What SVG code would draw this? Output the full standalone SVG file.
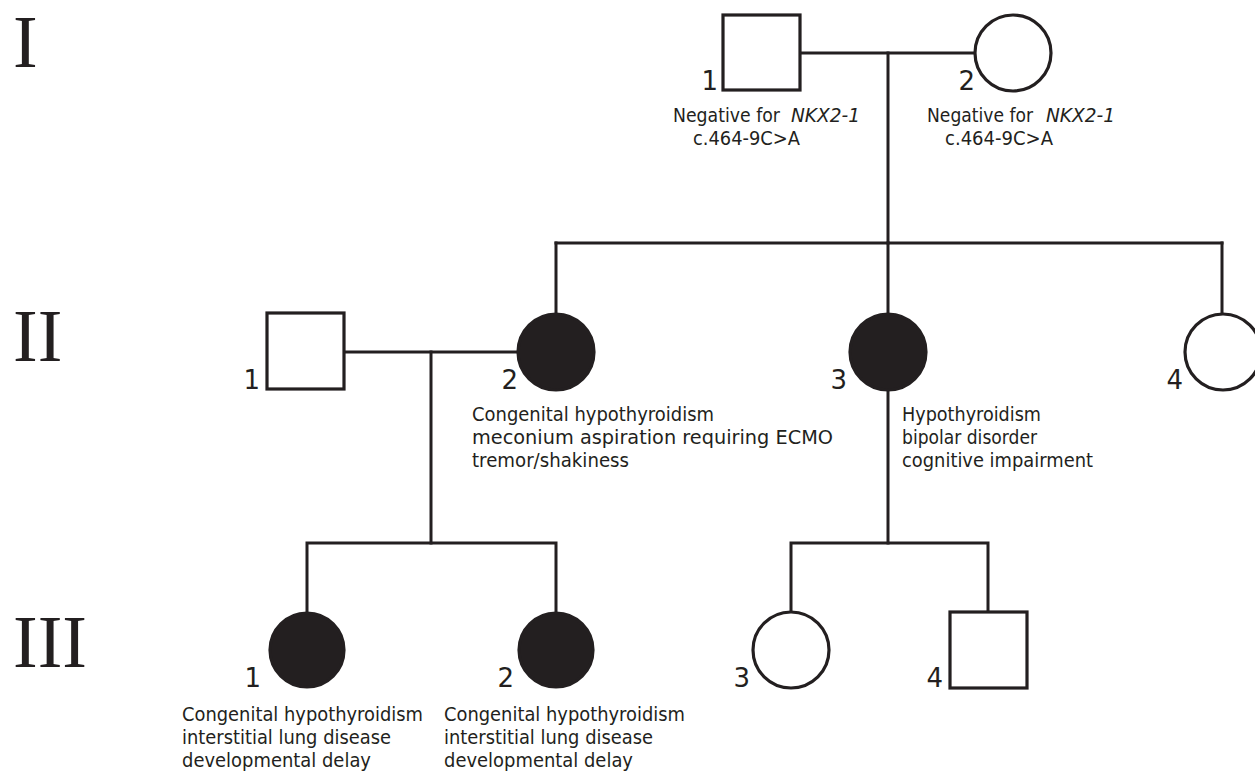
<svg xmlns="http://www.w3.org/2000/svg" width="1255" height="774" viewBox="0 0 1255 774">
<style>
.ln{stroke:#231f20;stroke-width:3;fill:none;stroke-linecap:square}
.sh{stroke:#231f20;stroke-width:3.2;fill:#fff}
.af{stroke:#231f20;stroke-width:3.2;fill:#231f20}
.t{font-family:"DejaVu Sans",Verdana,sans-serif;font-size:20px;fill:#231f20}
.i{font-style:italic}
.n{font-family:"DejaVu Sans",Verdana,sans-serif;font-size:26px;fill:#231f20;text-anchor:end}
.g{font-family:"Liberation Serif","Times New Roman",serif;font-size:74px;fill:#231f20}
</style>
<rect width="1255" height="774" fill="#fff"/>
<g id="generations">
<text class="g" x="13" y="67">I</text>
<text class="g" x="13" y="361">II</text>
<text class="g" x="13" y="667">III</text>
</g>
<g id="connectors">
<path class="ln" d="M800 53H975"/>
<path class="ln" d="M888 53V243"/>
<path class="ln" d="M556 243H1222"/>
<path class="ln" d="M556 243V313M888 243V313M1222 243V314"/>
<path class="ln" d="M344 352H517"/>
<path class="ln" d="M431 352V543"/>
<path class="ln" d="M307 543H556M307 543V612M556 543V612"/>
<path class="ln" d="M888 390V543"/>
<path class="ln" d="M791 543H988M791 543V612M988 543V612"/>
</g>
<g id="I-1">
<rect class="sh" x="723" y="15" width="77" height="75"/>
<text class="n" x="718" y="90">1</text>
<text class="t" x="673" y="122" textLength="107" lengthAdjust="spacingAndGlyphs">Negative for</text>
<text class="t i" x="791" y="122" textLength="69" lengthAdjust="spacingAndGlyphs">NKX2-1</text>
<text class="t" x="693" y="145" textLength="107" lengthAdjust="spacingAndGlyphs">c.464-9C&gt;A</text>
</g>
<g id="I-2">
<circle class="sh" cx="1013" cy="53" r="38"/>
<text class="n" x="975" y="90">2</text>
<text class="t" x="927" y="122" textLength="106" lengthAdjust="spacingAndGlyphs">Negative for</text>
<text class="t i" x="1046" y="122" textLength="69" lengthAdjust="spacingAndGlyphs">NKX2-1</text>
<text class="t" x="945" y="145" textLength="108" lengthAdjust="spacingAndGlyphs">c.464-9C&gt;A</text>
</g>
<g id="II-1">
<rect class="sh" x="267" y="313" width="77" height="76"/>
<text class="n" x="260" y="389">1</text>
</g>
<g id="II-2">
<circle class="af" cx="556" cy="352" r="38"/>
<text class="n" x="518" y="389">2</text>
<text class="t" x="472" y="421" textLength="242" lengthAdjust="spacingAndGlyphs">Congenital hypothyroidism</text>
<text class="t" x="472" y="444" textLength="361" lengthAdjust="spacingAndGlyphs">meconium aspiration requiring ECMO</text>
<text class="t" x="472" y="467" textLength="157" lengthAdjust="spacingAndGlyphs">tremor/shakiness</text>
</g>
<g id="II-3">
<circle class="af" cx="888" cy="352" r="38"/>
<text class="n" x="847" y="389">3</text>
<text class="t" x="902" y="421" textLength="139" lengthAdjust="spacingAndGlyphs">Hypothyroidism</text>
<text class="t" x="902" y="444" textLength="135" lengthAdjust="spacingAndGlyphs">bipolar disorder</text>
<text class="t" x="902" y="467" textLength="191" lengthAdjust="spacingAndGlyphs">cognitive impairment</text>
</g>
<g id="II-4">
<circle class="sh" cx="1223" cy="352" r="38"/>
<text class="n" x="1183" y="389">4</text>
</g>
<g id="III-1">
<circle class="af" cx="307" cy="650" r="37"/>
<text class="n" x="261" y="687">1</text>
<text class="t" x="182" y="721" textLength="241" lengthAdjust="spacingAndGlyphs">Congenital hypothyroidism</text>
<text class="t" x="182" y="744" textLength="209" lengthAdjust="spacingAndGlyphs">interstitial lung disease</text>
<text class="t" x="182" y="767" textLength="189" lengthAdjust="spacingAndGlyphs">developmental delay</text>
</g>
<g id="III-2">
<circle class="af" cx="556" cy="650" r="37"/>
<text class="n" x="514" y="687">2</text>
<text class="t" x="444" y="721" textLength="241" lengthAdjust="spacingAndGlyphs">Congenital hypothyroidism</text>
<text class="t" x="444" y="744" textLength="209" lengthAdjust="spacingAndGlyphs">interstitial lung disease</text>
<text class="t" x="444" y="767" textLength="189" lengthAdjust="spacingAndGlyphs">developmental delay</text>
</g>
<g id="III-3">
<circle class="sh" cx="791" cy="650" r="38"/>
<text class="n" x="750" y="687">3</text>
</g>
<g id="III-4">
<rect class="sh" x="950" y="612" width="77" height="76"/>
<text class="n" x="943" y="687">4</text>
</g>
</svg>
